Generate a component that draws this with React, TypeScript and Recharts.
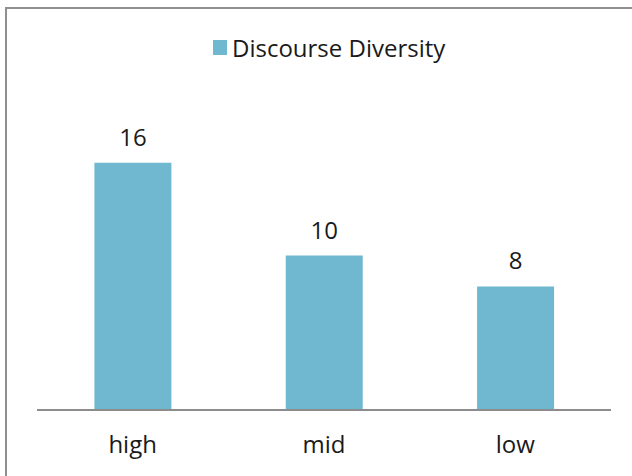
import React from 'react'
import { BarChart, Bar, XAxis, YAxis, LabelList, Legend } from 'recharts'

const categories = ['high', 'mid', 'low']
const diversity = [16, 10, 8]

const data = categories.map((name, i) => ({ name, value: diversity[i] }))

const FONT = '"Open Sans", "Noto Sans", sans-serif'
const BAR = '#6fb8d0'
const TEXT = '#1a1a1a'

const renderLegend = () => (
  <div style={{ display: 'flex', alignItems: 'center', paddingLeft: 213, fontFamily: FONT, fontSize: 24, color: TEXT, height: 33 }}>
    <span style={{ display: 'inline-block', width: 14, height: 15, background: BAR, marginRight: 5 }} />
    <span>Discourse Diversity</span>
  </div>
)

export default function App() {
  return (
    <div style={{ position: 'absolute', left: 0, top: 0, width: 632, height: 476, overflow: 'hidden', background: '#fff' }}>
      <div
        style={{
          position: 'absolute',
          left: 5,
          top: 7,
          width: 700,
          height: 600,
          borderLeft: '2px solid #8f8f8f',
          borderTop: '2px solid #8f8f8f',
        }}
      />
      <BarChart
        width={632}
        height={476}
        data={data}
        margin={{ top: 68, right: 21, bottom: 36, left: 37 }}
        barCategoryGap="30%"
        style={{ position: 'absolute', left: 0, top: 0 }}
      >
        <Legend verticalAlign="top" content={renderLegend} wrapperStyle={{ top: 31, left: 0, width: 632 }} />
        <XAxis
          dataKey="name"
          axisLine={{ stroke: '#8c8c8c', strokeWidth: 2 }}
          tickLine={false}
          tick={{ fontFamily: FONT, fontSize: 24, fill: TEXT }}
          dy={18}
        />
        <YAxis hide domain={[0, 20]} />
        <Bar dataKey="value" name="Discourse Diversity" fill={BAR} isAnimationActive={false}>
          <LabelList dataKey="value" position="top" offset={17} style={{ fontFamily: FONT, fontSize: 24, fill: TEXT }} />
        </Bar>
      </BarChart>
    </div>
  )
}
